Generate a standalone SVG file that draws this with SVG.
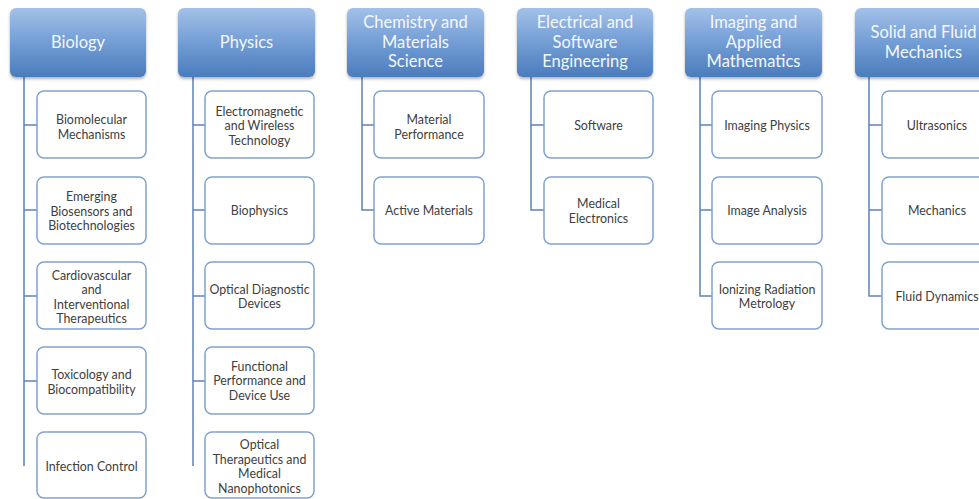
<svg xmlns="http://www.w3.org/2000/svg" width="979" height="499" viewBox="0 0 979 499">
<defs>
<linearGradient id="hg" x1="0" y1="0" x2="0" y2="1">
<stop offset="0" stop-color="#a3c1e8"/>
<stop offset="0.5" stop-color="#739dd5"/>
<stop offset="1" stop-color="#4a7cbc"/>
</linearGradient>
<filter id="sh" x="-10%" y="-10%" width="120%" height="130%">
<feDropShadow dx="0" dy="2" stdDeviation="1.5" flood-color="#000" flood-opacity="0.3"/>
</filter>
<style>
.hd{fill:url(#hg);filter:url(#sh)}
.ht{font-family:Lato,"Liberation Sans",sans-serif;font-size:16.5px;fill:#f4f8fd;text-anchor:middle}
.ch{fill:#fff;stroke:#7fa3d1;stroke-width:1.5}
.ct{font-family:Lato,"Liberation Sans",sans-serif;font-size:12.4px;fill:#404040;text-anchor:middle}
.cn{fill:none;stroke:#5b82b8;stroke-width:1.5}
</style>
</defs>
<rect width="979" height="499" fill="#fff"/>
<g id="connectors">
<path class="cn" d="M24,77V466M24,125H37M24,210H37M24,296H37M24,381H37"/>
<path class="cn" d="M193,77V466M193,125H205M193,210H205M193,296H205M193,381H205"/>
<path class="cn" d="M362,77V210H374M362,125H374"/>
<path class="cn" d="M531,77V210H544M531,125H544"/>
<path class="cn" d="M700,77V296H712M700,125H712M700,210H712"/>
<path class="cn" d="M869,77V296H882M869,125H882M869,210H882"/>
</g>
<g id="biology">
<rect class="hd" x="10" y="8" width="136" height="69" rx="6"/>
<text class="ht" x="78" y="48">Biology</text>
</g>
<g id="physics">
<rect class="hd" x="178" y="8" width="137" height="69" rx="6"/>
<text class="ht" x="246.5" y="48">Physics</text>
</g>
<g id="chemistry">
<rect class="hd" x="347" y="8" width="137" height="69" rx="6"/>
<text class="ht" x="415.5" y="28">Chemistry and</text>
<text class="ht" x="415.5" y="47.5">Materials</text>
<text class="ht" x="415.5" y="67">Science</text>
</g>
<g id="electrical">
<rect class="hd" x="517" y="8" width="136" height="69" rx="6"/>
<text class="ht" x="585" y="28">Electrical and</text>
<text class="ht" x="585" y="47.5">Software</text>
<text class="ht" x="585" y="67">Engineering</text>
</g>
<g id="imaging">
<rect class="hd" x="685" y="8" width="137" height="69" rx="6"/>
<text class="ht" x="753.5" y="28">Imaging and</text>
<text class="ht" x="753.5" y="47.5">Applied</text>
<text class="ht" x="753.5" y="67">Mathematics</text>
</g>
<g id="solid">
<rect class="hd" x="855" y="8" width="137" height="69" rx="6"/>
<text class="ht" x="923.5" y="38">Solid and Fluid</text>
<text class="ht" x="923.5" y="57.5">Mechanics</text>
</g>
<g id="bio1"><rect class="ch" x="37" y="91" width="109" height="67" rx="7"/><text class="ct" x="91.5" y="124">Biomolecular</text><text class="ct" x="91.5" y="138.5">Mechanisms</text></g>
<g id="bio2"><rect class="ch" x="37" y="177" width="109" height="67" rx="7"/><text class="ct" x="91.5" y="201">Emerging</text><text class="ct" x="91.5" y="215.5">Biosensors and</text><text class="ct" x="91.5" y="230">Biotechnologies</text></g>
<g id="bio3"><rect class="ch" x="37" y="262" width="109" height="67" rx="7"/><text class="ct" x="91.5" y="279.5">Cardiovascular</text><text class="ct" x="91.5" y="294">and</text><text class="ct" x="91.5" y="308.5">Interventional</text><text class="ct" x="91.5" y="323">Therapeutics</text></g>
<g id="bio4"><rect class="ch" x="37" y="347" width="109" height="67" rx="7"/><text class="ct" x="91.5" y="379">Toxicology and</text><text class="ct" x="91.5" y="393.5">Biocompatibility</text></g>
<g id="bio5"><rect class="ch" x="37" y="432" width="109" height="66" rx="7"/><text class="ct" x="91.5" y="470.5">Infection Control</text></g>
<g id="phy1"><rect class="ch" x="205" y="91" width="109" height="67" rx="7"/><text class="ct" x="259.5" y="115.5">Electromagnetic</text><text class="ct" x="259.5" y="130">and Wireless</text><text class="ct" x="259.5" y="144.5">Technology</text></g>
<g id="phy2"><rect class="ch" x="205" y="177" width="109" height="67" rx="7"/><text class="ct" x="259.5" y="215">Biophysics</text></g>
<g id="phy3"><rect class="ch" x="205" y="262" width="109" height="67" rx="7"/><text class="ct" x="259.5" y="293.5">Optical Diagnostic</text><text class="ct" x="259.5" y="308">Devices</text></g>
<g id="phy4"><rect class="ch" x="205" y="347" width="109" height="67" rx="7"/><text class="ct" x="259.5" y="370.5">Functional</text><text class="ct" x="259.5" y="385">Performance and</text><text class="ct" x="259.5" y="399.5">Device Use</text></g>
<g id="phy5"><rect class="ch" x="205" y="432" width="109" height="66" rx="7"/><text class="ct" x="259.5" y="449">Optical</text><text class="ct" x="259.5" y="463.5">Therapeutics and</text><text class="ct" x="259.5" y="478">Medical</text><text class="ct" x="259.5" y="492.5">Nanophotonics</text></g>
<g id="chem1"><rect class="ch" x="374" y="91" width="110" height="67" rx="7"/><text class="ct" x="429" y="124">Material</text><text class="ct" x="429" y="138.5">Performance</text></g>
<g id="chem2"><rect class="ch" x="374" y="177" width="110" height="67" rx="7"/><text class="ct" x="429" y="215">Active Materials</text></g>
<g id="elec1"><rect class="ch" x="544" y="91" width="109" height="67" rx="7"/><text class="ct" x="598.5" y="129.5">Software</text></g>
<g id="elec2"><rect class="ch" x="544" y="177" width="109" height="67" rx="7"/><text class="ct" x="598.5" y="208">Medical</text><text class="ct" x="598.5" y="222.5">Electronics</text></g>
<g id="img1"><rect class="ch" x="712" y="91" width="110" height="67" rx="7"/><text class="ct" x="767" y="129.5">Imaging Physics</text></g>
<g id="img2"><rect class="ch" x="712" y="177" width="110" height="67" rx="7"/><text class="ct" x="767" y="215">Image Analysis</text></g>
<g id="img3"><rect class="ch" x="712" y="262" width="110" height="67" rx="7"/><text class="ct" x="767" y="293.5">Ionizing Radiation</text><text class="ct" x="767" y="308">Metrology</text></g>
<g id="sol1"><rect class="ch" x="882" y="91" width="110" height="67" rx="7"/><text class="ct" x="937" y="129.5">Ultrasonics</text></g>
<g id="sol2"><rect class="ch" x="882" y="177" width="110" height="67" rx="7"/><text class="ct" x="937" y="215">Mechanics</text></g>
<g id="sol3"><rect class="ch" x="882" y="262" width="110" height="67" rx="7"/><text class="ct" x="937" y="300.5">Fluid Dynamics</text></g>
</svg>
